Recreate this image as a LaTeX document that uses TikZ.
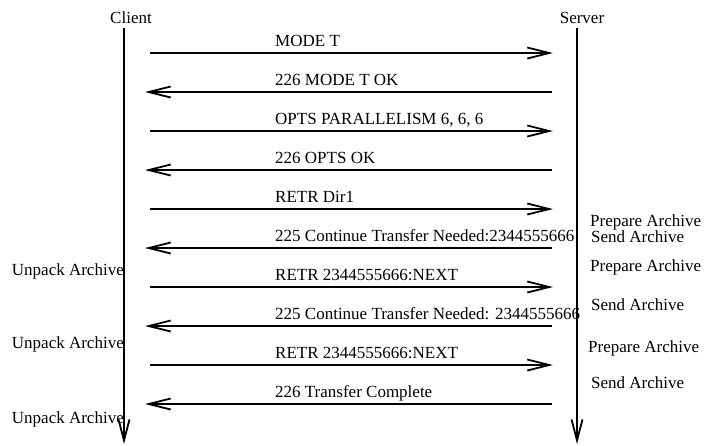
\documentclass[tikz,border=0pt]{standalone}
\usepackage{fontspec}
\setmainfont{Liberation Serif}
\usetikzlibrary{arrows.meta}
\tikzset{
  lbl/.style={anchor=base west,inner sep=0pt},
  note/.style={anchor=base west,inner sep=0pt},
  life/.style={-{Straight Barb[length=21pt,width=11pt]},line width=1.8pt},
  msg/.style={-{Straight Barb[length=22pt,width=11pt]},line width=1.8pt},
}

\begin{document}
\begin{tikzpicture}[x=1pt,y=-1pt,font=\fontsize{17}{19}\selectfont]
  \useasboundingbox (0,0) rectangle (715,445);
  % the two parties
  \node[anchor=base,inner sep=0pt] (client) at (131,23) {Client};
  \node[anchor=base,inner sep=0pt] (server) at (582,23) {Server};
  \coordinate (ctop) at (124,28);
  \coordinate (cbot) at (124,444);
  \coordinate (stop) at (577,28);
  \coordinate (sbot) at (577,444);
  \draw[life] (ctop) -- (cbot);
  \draw[life] (stop) -- (sbot);
  % messages, odd ones go to the server
  \foreach \i/\y/\txt in {1/53/MODE T,
                          2/92/226 MODE T OK,
                          3/131/{OPTS PARALLELISM 6, 6, 6},
                          4/170/226 OPTS OK,
                          5/209/RETR Dir1,
                          6/248/225 Continue Transfer Needed:2344555666,
                          7/287/RETR 2344555666:NEXT,
                          8/326/225 Continue Transfer Needed: 2344555666,
                          9/365/RETR 2344555666:NEXT,
                          10/404/226 Transfer Complete}{
    \ifodd\i \def\cx{150}\def\sx{553}\else \def\cx{145}\def\sx{552}\fi
    \coordinate (c\i) at (\cx,\y);
    \coordinate (s\i) at (\sx,\y);
    \node[lbl] (m\i) at (275,\y-7) {\txt};
    \ifodd\i \draw[msg] (c\i) -- (s\i); \else \draw[msg] (s\i) -- (c\i); \fi
  }
  % server side work
  \node[note] (prep1) at (590,226) {Prepare Archive};
  \node[note] (send1) at (591,242) {Send Archive};
  \node[note] (prep2) at (590,271) {Prepare Archive};
  \node[note] (send2) at (591,310) {Send Archive};
  \node[note] (prep3) at (588,352) {Prepare Archive};
  \node[note] (send3) at (591,388) {Send Archive};
  % client side work
  \node[note,anchor=base east] (unp1) at (124,275) {Unpack Archive};
  \node[note,anchor=base east] (unp2) at (124,348) {Unpack Archive};
  \node[note,anchor=base east] (unp3) at (124,423) {Unpack Archive};
\end{tikzpicture}
\end{document}
